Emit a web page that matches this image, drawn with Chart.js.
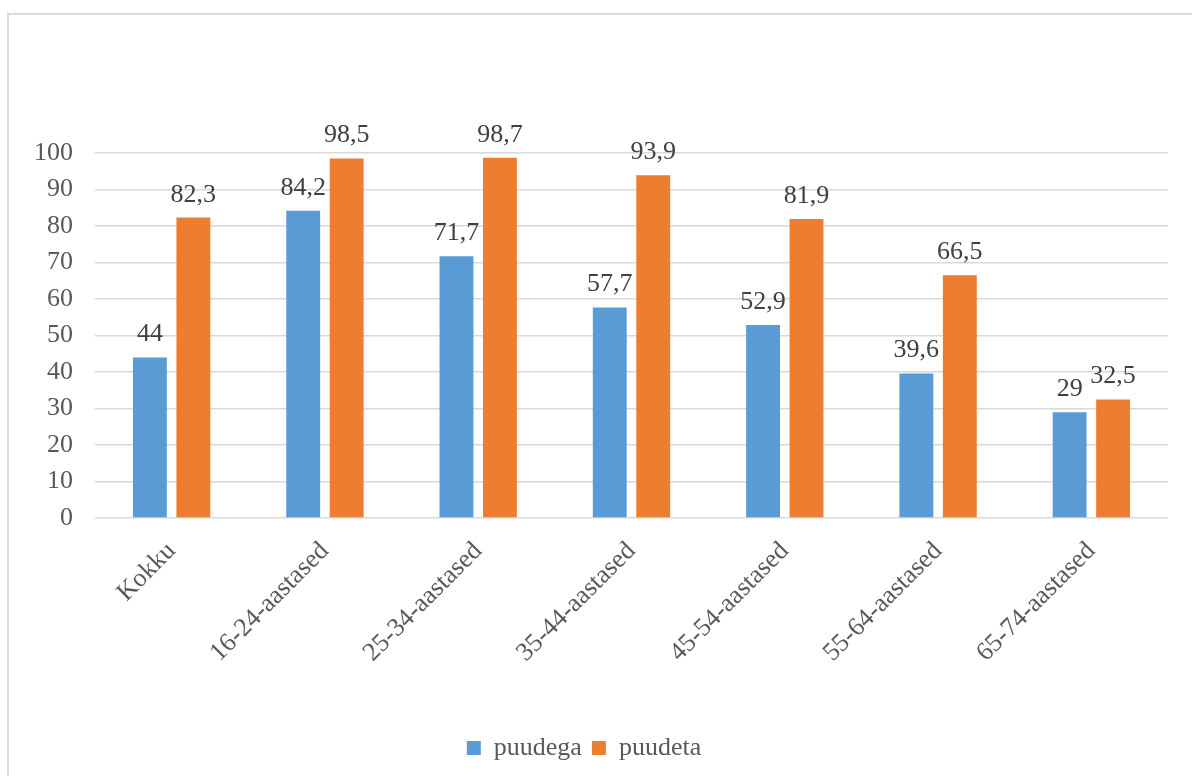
<!DOCTYPE html>
<html>
<head>
<meta charset="utf-8">
<script src="https://cdn.jsdelivr.net/npm/chart.js@4"></script>
<style>
  html, body { margin: 0; padding: 0; background: #fff; overflow: hidden; }
  #frame { position: absolute; left: 7px; top: 13px; width: 1300px; height: 900px;
           border-left: 2px solid #d9d9d9; border-top: 2px solid #d9d9d9; }
  #wrap { position: absolute; left: 0; top: 0; width: 1192px; height: 776px; }
</style>
</head>
<body>
<div id="frame"></div>
<div id="wrap"><canvas id="chart" width="1192" height="776"></canvas></div>
<script>
// data
const categories = ['Kokku', '16-24-aastased', '25-34-aastased', '35-44-aastased', '45-54-aastased', '55-64-aastased', '65-74-aastased'];
const puudega = [44, 84.2, 71.7, 57.7, 52.9, 39.6, 29];
const puudeta = [82.3, 98.5, 98.7, 93.9, 81.9, 66.5, 32.5];
const seriesNames = ['puudega', 'puudeta'];

const serif = '"Liberation Serif", "Times New Roman", serif';

// values on top of bars, Excel-style with comma decimals
const barLabels = {
  id: 'barLabels',
  afterDatasetsDraw(chart) {
    const ctx = chart.ctx;
    ctx.save();
    ctx.font = '26px ' + serif;
    ctx.fillStyle = '#404040';
    ctx.textAlign = 'center';
    ctx.textBaseline = 'alphabetic';
    chart.data.datasets.forEach((ds, di) => {
      chart.getDatasetMeta(di).data.forEach((bar, i) => {
        ctx.fillText(String(ds.data[i]).replace('.', ','), bar.x, bar.y - 16);
      });
    });
    ctx.restore();
  }
};

new Chart(document.getElementById('chart'), {
  type: 'bar',
  data: {
    labels: categories,
    datasets: [{
      label: seriesNames[0],
      data: puudega,
      backgroundColor: '#5b9bd5'
    }, {
      label: seriesNames[1],
      data: puudeta,
      backgroundColor: '#ed7d31'
    }]
  },
  options: {
    responsive: false,
    animation: false,
    categoryPercentage: 0.567,
    barPercentage: 0.78,
    layout: {
      padding: { top: 153, right: 24, bottom: 5, left: 0 }
    },
    scales: {
      y: {
        min: 0,
        max: 100,
        ticks: {
          stepSize: 10,
          padding: 22,
          color: '#595959',
          font: { family: serif, size: 26 }
        },
        grid: { color: '#d9d9d9', lineWidth: 1.5, drawTicks: false },
        border: { display: false },
        afterFit(scale) { scale.width = 95; }
      },
      x: {
        ticks: {
          minRotation: 45,
          maxRotation: 45,
          padding: 18,
          color: '#595959',
          font: { family: serif, size: 26 }
        },
        grid: { display: false, drawTicks: false },
        border: { display: false },
        afterFit(scale) { scale.height = 207; }
      }
    },
    plugins: {
      legend: {
        position: 'bottom',
        labels: {
          boxWidth: 14,
          boxHeight: 14,
          padding: 10,
          color: '#595959',
          font: { family: serif, size: 26 }
        }
      },
      tooltip: { enabled: false }
    }
  },
  plugins: [barLabels]
});
</script>
</body>
</html>
